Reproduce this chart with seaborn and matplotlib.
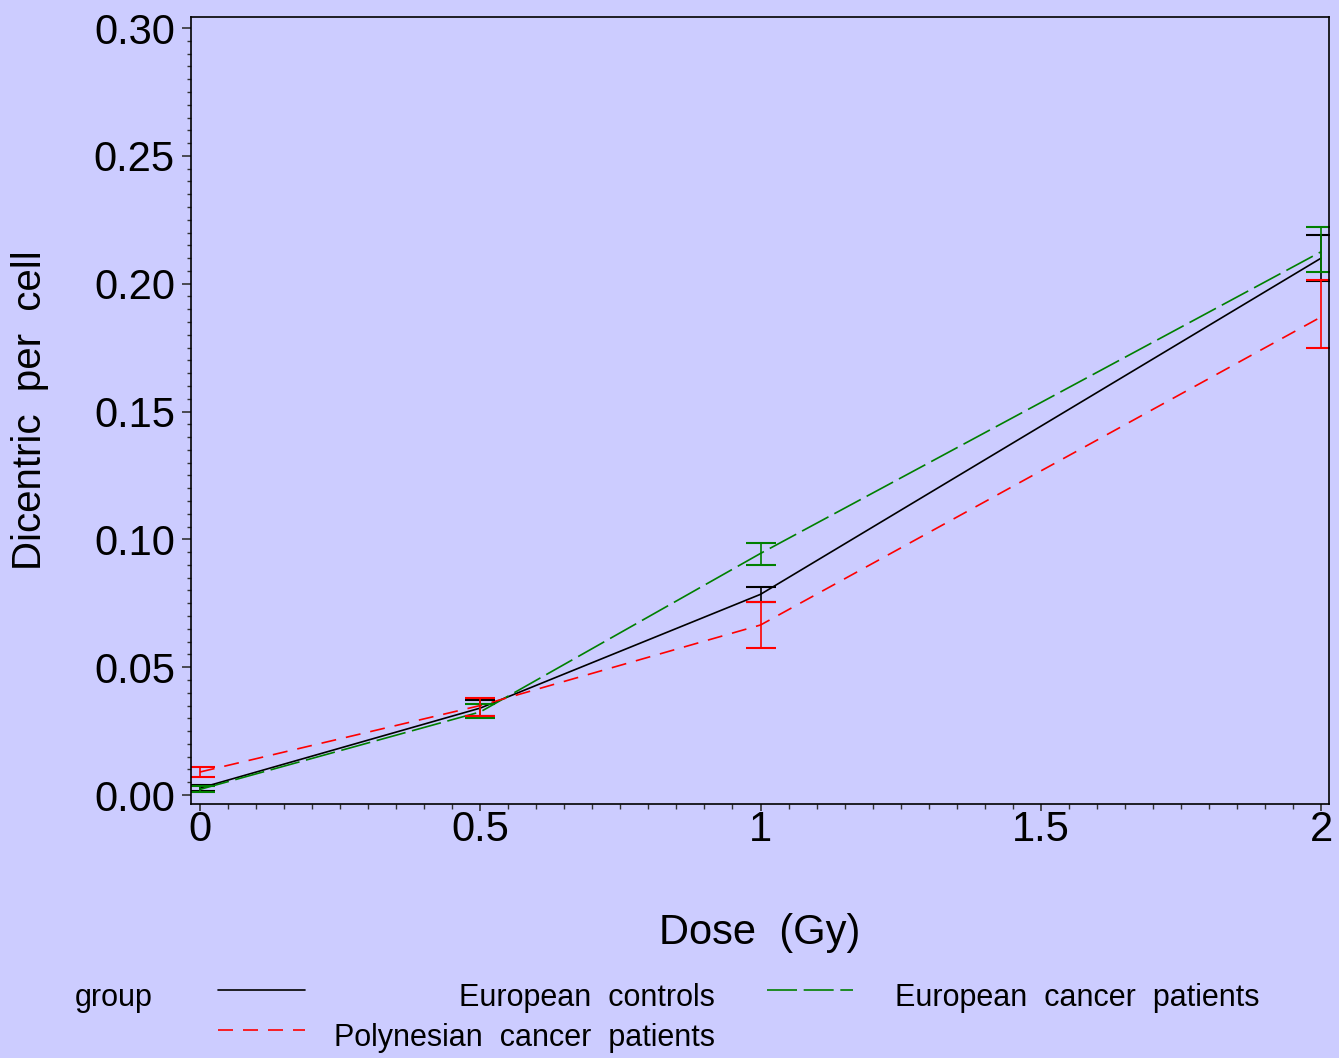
import pandas as pd
import numpy as np
import matplotlib
matplotlib.use("Agg")
import matplotlib.pyplot as plt
from matplotlib.lines import Line2D
from matplotlib.ticker import MultipleLocator
import seaborn as sns

# Data
dose = [0, 0.5, 1, 2]
groups = ["European controls", "European cancer patients", "Polynesian cancer patients"]

eu_ctrl = [0.0027, 0.0340, 0.0785, 0.2100]
eu_ctrl_lo = [0.0015, 0.0310, 0.0755, 0.2010]
eu_ctrl_hi = [0.0040, 0.0370, 0.0815, 0.2190]

eu_cancer = [0.0022, 0.0325, 0.0945, 0.2125]
eu_cancer_lo = [0.0010, 0.0300, 0.0900, 0.2045]
eu_cancer_hi = [0.0035, 0.0355, 0.0985, 0.2220]

poly_cancer = [0.0090, 0.0350, 0.0665, 0.1870]
poly_cancer_lo = [0.0070, 0.0310, 0.0575, 0.1750]
poly_cancer_hi = [0.0110, 0.0380, 0.0755, 0.2015]

colors = {"European controls": "black",
          "European cancer patients": "green",
          "Polynesian cancer patients": "red"}
dash_styles = {"European controls": "",
               "European cancer patients": (18, 4),
               "Polynesian cancer patients": (9, 6)}

df = pd.DataFrame({
    "dose": dose * 3,
    "rate": eu_ctrl + eu_cancer + poly_cancer,
    "lo": eu_ctrl_lo + eu_cancer_lo + poly_cancer_lo,
    "hi": eu_ctrl_hi + eu_cancer_hi + poly_cancer_hi,
    "group": [g for g in groups for _ in dose],
})

sns.set_style("white")
plt.rcParams["font.family"] = ["Liberation Sans", "DejaVu Sans"]
plt.rcParams["text.color"] = "black"
plt.rcParams["axes.labelcolor"] = "black"
plt.rcParams["xtick.color"] = "black"
plt.rcParams["ytick.color"] = "black"
bg = "#CCCCFF"

fig = plt.figure(figsize=(13.39, 10.58), dpi=100, facecolor=bg)
ax = fig.add_axes([0.1426, 0.2401, 0.8499, 0.7438])
ax.set_facecolor(bg)

sns.lineplot(data=df, x="dose", y="rate", hue="group", style="group",
             palette=colors, dashes=dash_styles, linewidth=1.2,
             legend=False, ax=ax, errorbar=None, sort=True)

for g in groups:
    sub = df[df["group"] == g]
    ax.errorbar(sub["dose"], sub["rate"],
                yerr=[sub["rate"] - sub["lo"], sub["hi"] - sub["rate"]],
                fmt="none", ecolor=colors[g], elinewidth=1.2,
                capsize=11, capthick=1.5)

ax.set_xlim(-0.016, 2.014)
ax.set_ylim(-0.0035, 0.3043)
ax.set_xticks([0, 0.5, 1, 1.5, 2])
ax.set_xticklabels(["0", "0.5", "1", "1.5", "2"])
ax.set_yticks(np.arange(0, 0.31, 0.05))
ax.set_yticklabels(["0.00", "0.05", "0.10", "0.15", "0.20", "0.25", "0.30"])
ax.xaxis.set_minor_locator(MultipleLocator(0.05))
ax.yaxis.set_minor_locator(MultipleLocator(0.005))
ax.tick_params(axis="x", which="major", direction="out", length=5, width=1.2,
               color="#333333", labelsize=30, pad=-1, bottom=True)
ax.tick_params(axis="x", which="minor", direction="out", length=3.6, width=1,
               color="#333333", bottom=True)
ax.tick_params(axis="y", which="major", direction="out", length=6.5, width=1.2,
               color="#333333", labelsize=30, pad=5, left=True)
ax.tick_params(axis="y", which="minor", direction="out", length=3, width=1,
               color="#333333", left=True)
for s in ax.spines.values():
    s.set_color("black")
    s.set_linewidth(1.2)

ax.set_xlabel("Dose  (Gy)", fontsize=30)
ax.set_ylabel("Dicentric  per  cell", fontsize=29)
ax.xaxis.set_label_coords(0.5, -0.138)
ax.yaxis.set_label_coords(-0.125, 0.5)

# Legend at bottom
fs = 22
fig.text(75 / 1339, 1 - 998 / 1058, "group", fontsize=fs, va="center", ha="left")
rows = [
    (groups[0], 218, 305, 715, 998, "right"),
    (groups[1], 767, 853, 895, 998, "left"),
    (groups[2], 218, 305, 715, 1038, "right"),
]
for g, x0, x1, tx, ty, ha in rows:
    yy = 1 - (ty - 8) / 1058
    ln = Line2D([x0 / 1339, x1 / 1339], [yy, yy], transform=fig.transFigure,
                color=colors[g], linewidth=1.2)
    if dash_styles[g]:
        ln.set_dashes(dash_styles[g])
    fig.add_artist(ln)
    fig.text(tx / 1339, 1 - ty / 1058, g.replace(" ", "  "), fontsize=fs,
             va="center", ha=ha)

fig.savefig("out.png", dpi=100, facecolor=bg)
